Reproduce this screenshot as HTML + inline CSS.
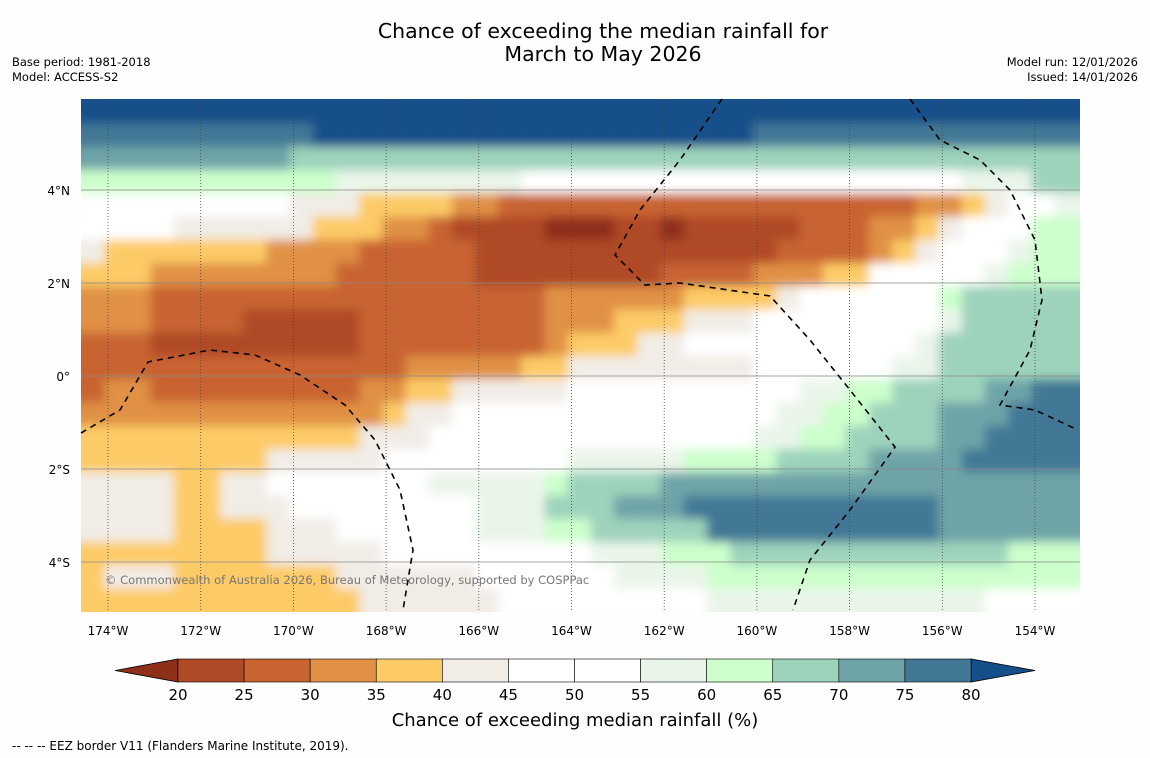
<!DOCTYPE html>
<html><head><meta charset="utf-8">
<style>
body{margin:0;background:#fff;width:1150px;height:758px;overflow:hidden;font-family:"DejaVu Sans",sans-serif;}
svg{display:block}
</style></head>
<body>
<svg id="chart" width="1150" height="758" xmlns="http://www.w3.org/2000/svg" font-family="DejaVu Sans, sans-serif">
  <defs>
    <filter id="soft" x="0" y="0" width="1" height="1"><feGaussianBlur stdDeviation="5" edgeMode="duplicate"/></filter>
  </defs>
  <rect width="1150" height="758" fill="#fefefe"/>
  <text x="603" y="38" font-size="20.5" text-anchor="middle">Chance of exceeding the median rainfall for</text>
  <text x="603" y="61" font-size="20.5" text-anchor="middle">March to May 2026</text>
  <text x="12" y="66" font-size="11.5">Base period: 1981-2018</text>
  <text x="12" y="81" font-size="11.5">Model: ACCESS-S2</text>
  <text x="1138" y="66" font-size="11.5" text-anchor="end">Model run: 12/01/2026</text>
  <text x="1138" y="81" font-size="11.5" text-anchor="end">Issued: 14/01/2026</text>
  <clipPath id="mapclip"><rect x="81" y="99" width="999" height="513"/></clipPath>
  <g clip-path="url(#mapclip)"><g id="map" filter="url(#soft)"></g></g>
  <g id="grid"></g>
  <g id="eez" fill="none" stroke="#000" stroke-width="1.6" stroke-dasharray="6,5">
    <polyline points="81,433 120,410 148,362 210,350 255,355 300,375 345,405 375,440 400,490 413,550 403,610"/>
    <polyline points="722,99 680,160 640,210 615,255 645,285 680,283 770,296 810,340 850,390 895,447 850,510 810,560 793,610"/>
    <polyline points="910,99 940,140 980,160 1010,190 1035,240 1042,300 1030,350 1000,405 1035,410 1078,430"/>
  </g>
  <text x="105" y="584" font-size="11.5" fill="#777">© Commonwealth of Australia 2026, Bureau of Meteorology, supported by COSPPac</text>
  <g id="xticks"></g>
  <g id="yticks"></g>
  <g id="cbar"></g>
  <text x="575" y="726" font-size="18" text-anchor="middle">Chance of exceeding median rainfall (%)</text>
  <text x="12" y="750" font-size="12">--  --  -- EEZ border V11 (Flanders Marine Institute, 2019).</text>
</svg>
<script>
// class codes -> representative % value
const codeValues = {A:18,B:23,C:28,D:33,E:38,F:43,W:50,G:58,H:63,I:68,J:73,K:78,L:83};
const levels = [20,25,30,35,40,45,50,55,60,65,70,75,80];
const levelColors = ["#8e2f1a","#b04a27","#c96430","#e09145","#fdcb66","#f1ece6","#ffffff","#ffffff","#eaf5ea","#ccffcc","#9dd3bb","#6ea4a8","#427896","#154f8a"];
const lonTicks = [-174,-172,-170,-168,-166,-164,-162,-160,-158,-156,-154];
const lonLabels = ["174°W","172°W","170°W","168°W","166°W","164°W","162°W","160°W","158°W","156°W","154°W"];
const latTicks = [4,2,0,-2,-4];
const latLabels = ["4°N","2°N","0°","2°S","4°S"];
const gridLon0 = -174.58, gridLat0 = 5.93, cellDeg = 0.5;
// run-length encoded rows, north to south (0.5° cells)
const rows = [
"L43",
"K10 L19 K14",
"J9 I34",
"H11 G8 W19 G3 I2",
"W9 F3 E4 D2 C18 D2 E1 F1 W2 G1",
"W4 F6 E3 D2 C1 B4 A3 B2 A1 B5 C3 D2 E1 F1 W3 H2",
"F1 E7 D4 C5 B13 C4 D1 E1 F1 W3 G1 H2",
"E3 D8 C6 B8 C4 D3 E2 W5 G1 H3",
"D3 C17 D6 E4 F1 W6 H1 I5",
"D3 C4 B5 C8 D3 E3 F3 W8 G1 I5",
"C3 B9 C8 D1 E3 F2 W10 G1 I6",
"C14 D5 E2 F8 W6 G2 I6",
"C1 D2 C9 D2 E2 F5 W10 G2 H2 I4 J2 K2",
"D13 E1 F2 W14 G2 H2 I3 J3 K3",
"E12 F3 W14 G2 H2 I4 J2 K4",
"E8 F5 W8 G5 H4 I4 J4 K5",
"F4 E2 F2 W7 G5 H1 I4 J18",
"F4 E2 F3 W8 G3 I3 J3 K11 J6",
"F4 E4 F3 W6 G3 H2 I5 K10 J6",
"E8 F5 W9 G3 H3 I12 H3",
"E1 F3 E7 F6 W6 G4 H16",
"E12 F6 W9 G12 W4"
];
const cbValues = [20,25,30,35,40,45,50,55,60,65,70,75,80];

const NS="http://www.w3.org/2000/svg";
function xOf(lon){return 108+(lon+174)*46.35;}
function yOf(lat){return 376-lat*46.5;}
function colorOf(v){let i=0;while(i<levels.length&&v>=levels[i])i++;return levelColors[i];}
function mk(tag,attrs,parent){const e=document.createElementNS(NS,tag);for(const k in attrs)e.setAttribute(k,attrs[k]);parent.appendChild(e);return e;}

const map=document.getElementById('map');
rows.forEach((row,r)=>{
  let c=0;
  row.split(' ').forEach(tok=>{
    const code=tok[0], n=parseInt(tok.slice(1));
    for(let k=0;k<n;k++){
      const lonA=gridLon0+c*cellDeg, latA=gridLat0-r*cellDeg;
      let x0=xOf(lonA), x1=xOf(lonA+cellDeg), y0=yOf(latA), y1=yOf(latA-cellDeg);
      if(c===0) x0-=20;
      if(c===42) x1+=20;
      if(r===0) y0-=20;
      if(r===rows.length-1) y1+=20;
      const rc=mk('rect',{x:x0,y:y0,width:x1-x0+1,height:y1-y0+1,fill:colorOf(codeValues[code])},map);
      
      
      c++;
    }
  });
});

const grid=document.getElementById('grid');
lonTicks.forEach(l=>{const gl=mk('line',{x1:xOf(l),x2:xOf(l),y1:99,y2:612,stroke:'#444','stroke-width':0.8,'stroke-dasharray':'1,2'},grid);
  });
latTicks.forEach(l=>{const gl=mk('line',{x1:81,x2:1080,y1:yOf(l),y2:yOf(l),stroke:'#888','stroke-width':0.8},grid);
  });

const xt=document.getElementById('xticks');
lonTicks.forEach((l,i)=>{const t=mk('text',{x:xOf(l),y:635,'font-size':12,'text-anchor':'middle'},xt);t.textContent=lonLabels[i];
  });
const yt=document.getElementById('yticks');
latTicks.forEach((l,i)=>{const t=mk('text',{x:70,y:yOf(l)+5,'font-size':12,'text-anchor':'end'},yt);t.textContent=latLabels[i];
  });

// colorbar
const cb=document.getElementById('cbar');
function cbx(v){return 178+(v-20)*(971-178)/60;}
const cy0=659,cy1=682;
const lt=mk('polygon',{points:`115,${(cy0+cy1)/2} ${cbx(20)},${cy0} ${cbx(20)},${cy1}`,fill:levelColors[0],stroke:'#000','stroke-width':0.8},cb);

const rt=mk('polygon',{points:`1035,${(cy0+cy1)/2} ${cbx(80)},${cy0} ${cbx(80)},${cy1}`,fill:levelColors[13],stroke:'#000','stroke-width':0.8},cb);

for(let i=0;i<cbValues.length-1;i++){
  const b=mk('rect',{x:cbx(cbValues[i]),y:cy0,width:cbx(cbValues[i+1])-cbx(cbValues[i]),height:cy1-cy0,fill:colorOf(cbValues[i]+2.5),stroke:'#000','stroke-width':0.6},cb);
  
}
cbValues.forEach(v=>{const t=mk('text',{x:cbx(v),y:700,'font-size':15,'text-anchor':'middle'},cb);t.textContent=v;
  });
</script>
</body></html>
